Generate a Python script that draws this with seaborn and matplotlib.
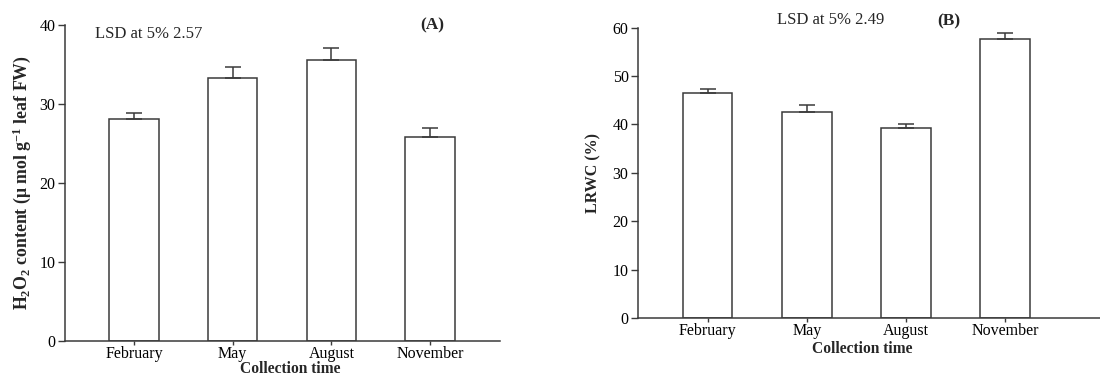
import numpy as np
import pandas as pd
import matplotlib
matplotlib.use('Agg')
import matplotlib.pyplot as plt
import seaborn as sns

months = ['February', 'May', 'August', 'November']
h2o2_mean = [28.1, 33.3, 35.6, 25.8]
h2o2_err = [0.8, 1.35, 1.5, 1.1]
lrwc_mean = [46.4, 42.6, 39.2, 57.6]
lrwc_err = [1.0, 1.5, 1.0, 1.2]

sns.set_theme(style='ticks')
plt.rcParams['font.family'] = ['Liberation Serif', 'DejaVu Serif']
plt.rcParams['mathtext.fontset'] = 'custom'
plt.rcParams['mathtext.rm'] = 'Liberation Serif'
plt.rcParams['mathtext.bf'] = 'Liberation Serif:bold'

edge = '#3a3a3a'
fig = plt.figure(figsize=(11, 3.76), dpi=100)
axA = fig.add_axes([0.0591, 0.0931, 0.3955, 0.8404])
axB = fig.add_axes([0.5803, 0.1535, 0.4197, 0.7731])


def draw(ax, means, errs, ylim, xmax, ylabel, yticks, ysize):
    df = pd.DataFrame({'month': months, 'value': means})
    sns.barplot(data=df, x='month', y='value', color='white', edgecolor=edge,
                linewidth=1.1, width=0.5, errorbar=None, ax=ax)
    for p in ax.patches:
        p.set_facecolor('white')
    ax.errorbar(np.arange(len(months)), means, yerr=[np.zeros(len(errs)), errs],
                fmt='none', ecolor=edge, elinewidth=1.1, capsize=6, capthick=1.1)
    ax.set_xlim(-0.70, xmax)
    ax.set_ylim(*ylim)
    ax.set_yticks(yticks)
    sns.despine(ax=ax)
    for s in ['left', 'bottom']:
        ax.spines[s].set_color(edge)
        ax.spines[s].set_linewidth(1.1)
    ax.tick_params(axis='both', colors=edge, labelcolor='black', labelsize=11.5,
                   length=5, width=1, pad=2)
    ax.tick_params(axis='x', length=3, pad=0.5)
    ax.set_ylabel(ylabel, fontsize=ysize, fontweight='bold')
    ax.set_xlabel('Collection time', fontsize=11.2, fontweight='bold')


draw(axA, h2o2_mean, h2o2_err, (0, 40), 3.71,
     r'H$\mathbf{_2}$O$\mathbf{_2}$ content ($\mathbf{\mu}$ mol g$\mathbf{^{-1}}$ leaf FW)',
     [0, 10, 20, 30, 40], 12.8)
draw(axB, lrwc_mean, lrwc_err, (0, 60), 3.96, 'LRWC (%)',
     [0, 10, 20, 30, 40, 50, 60], 11.5)

axA.yaxis.set_label_coords(-0.074, 0.5)
axA.xaxis.set_label_coords(0.517, -0.064)
axB.yaxis.set_label_coords(-0.079, 0.5)
axB.xaxis.set_label_coords(0.485, -0.077)

axA.text(0.069, 0.972, 'LSD at 5% 2.57', transform=axA.transAxes,
         fontsize=12, va='center', ha='left')
axA.text(0.844, 1.0, '(A)', transform=axA.transAxes,
         fontsize=12.5, fontweight='bold', va='center', ha='center')
axB.text(0.30, 1.026, 'LSD at 5% 2.49', transform=axB.transAxes,
         fontsize=12, va='center', ha='left')
axB.text(0.673, 1.022, '(B)', transform=axB.transAxes,
         fontsize=12.5, fontweight='bold', va='center', ha='center')

fig.savefig('out.png', dpi=100)
